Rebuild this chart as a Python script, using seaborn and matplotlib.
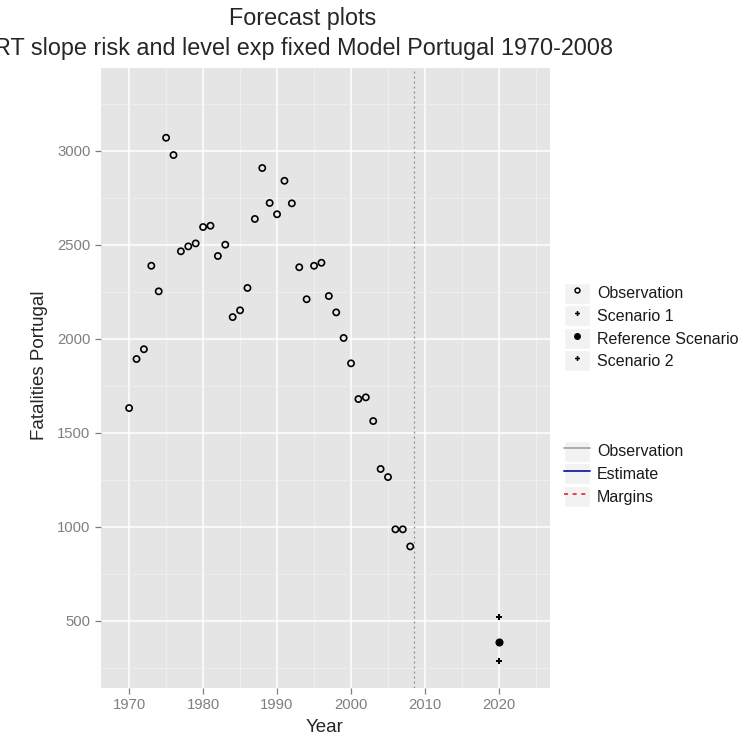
import matplotlib
matplotlib.use("Agg")
import matplotlib.pyplot as plt
import seaborn as sns
import pandas as pd
from matplotlib.lines import Line2D
from matplotlib.patches import Rectangle
from matplotlib.legend_handler import HandlerTuple
from matplotlib.ticker import MultipleLocator

# ---- data ----
years = list(range(1970, 2009))
fatalities = [1631, 1892, 1944, 2388, 2252, 3069, 2977, 2465, 2491, 2507,
              2594, 2601, 2440, 2500, 2115, 2151, 2270, 2637, 2908, 2722,
              2662, 2840, 2720, 2380, 2210, 2388, 2404, 2227, 2140, 2004,
              1869, 1679, 1688, 1562, 1307, 1264, 986, 986, 895]
forecast_year = 2020
scenario_names = ["Scenario 1", "Reference Scenario", "Scenario 2"]
scenario_values = [518, 385, 286]
last_obs_year = 2008.5
x_major = [1970, 1980, 1990, 2000, 2010, 2020]
y_major = [500, 1000, 1500, 2000, 2500, 3000]

title1 = "Forecast plots"
title2 = "RT slope risk and level exp fixed Model Portugal 1970-2008"

sns.set_theme(style="darkgrid")
plt.rcParams["font.family"] = ["Liberation Sans", "DejaVu Sans"]

W, H = 746, 738
fig = plt.figure(figsize=(W / 100, H / 100), dpi=100)
L, R, T, B = 101, 550, 68, 688
ax = fig.add_axes([L / W, 1 - B / H, (R - L) / W, (B - T) / H])
ax.set_facecolor("#E5E5E5")
for s in ax.spines.values():
    s.set_visible(False)

obs = pd.DataFrame({"Year": years, "Fatalities": fatalities})
fc = pd.DataFrame({"Year": [forecast_year] * 3, "Fatalities": scenario_values,
                   "Scenario": scenario_names})

sns.scatterplot(data=obs, x="Year", y="Fatalities", ax=ax, marker="o", s=20,
                color="black", linewidth=1.2, zorder=4)
ax.collections[-1].set_facecolor("none")
ax.collections[-1].set_edgecolor("black")

sc = fc[fc["Scenario"] != "Reference Scenario"]
ref = fc[fc["Scenario"] == "Reference Scenario"]
sns.scatterplot(data=sc, x="Year", y="Fatalities", ax=ax, marker="P", s=16,
                color="black", linewidth=0, zorder=4)
sns.scatterplot(data=ref, x="Year", y="Fatalities", ax=ax, marker="o", s=34,
                color="black", linewidth=0, zorder=4)

ax.axvline(last_obs_year, color="#8C8C8C", ls=(0, (1.5, 2.5)), lw=0.9, zorder=3)

ax.set_xlim(1966.2, 2026.9)
ax.set_ylim(142, 3440)
ax.set_xticks(x_major)
ax.set_yticks(y_major)
ax.xaxis.set_minor_locator(MultipleLocator(5))
ax.yaxis.set_minor_locator(MultipleLocator(250))
ax.grid(which="major", color="white", lw=1.1)
ax.grid(which="minor", color="#F2F2F2", lw=0.5)
ax.set_axisbelow(True)
ax.tick_params(which="major", length=4.5, width=0.9, color="#7F7F7F",
               labelcolor="#7F7F7F", labelsize=10.7, pad=3, bottom=True, left=True)
ax.tick_params(which="minor", length=0)
ax.set_xlabel("")
ax.set_ylabel("")

fig.text(325 / W, 1 - 728 / H, "Year", ha="center", va="center", fontsize=13.5)
fig.text(40 / W, 1 - 365 / H, "Fatalities Portugal", ha="center", va="center",
         rotation=90, fontsize=13.5)
fig.text(303 / W, 1 - 19 / H, title1, ha="center", va="center", fontsize=16.8)
fig.text(303 / W, 1 - 48 / H, title2, ha="center", va="center", fontsize=16.8)

# ---- legends ----
def keybox():
    return Rectangle((0, 0), 1, 1, facecolor="#F2F2F2", edgecolor="white", lw=1)

pt_handles = [
    (keybox(), Line2D([], [], ls="", marker="o", ms=3.5, mfc="none", mec="black", mew=1.1)),
    (keybox(), Line2D([], [], ls="", marker="P", ms=3.5, color="black", mew=0)),
    (keybox(), Line2D([], [], ls="", marker="o", ms=5, color="black", mew=0)),
    (keybox(), Line2D([], [], ls="", marker="P", ms=3.5, color="black", mew=0)),
]
pt_labels = ["Observation"] + scenario_names
ln_handles = [
    (keybox(), Line2D([], [], color="#A0A0A0", lw=1.2)),
    (keybox(), Line2D([], [], color="#2D2DA8", lw=1.4)),
    (keybox(), Line2D([], [], color="#F03030", lw=1.3, ls=(0, (2.2, 2.6)))),
]
ln_labels = ["Observation", "Estimate", "Margins"]

common = dict(frameon=False, fontsize=11.5, handlelength=1.63, handleheight=1.65,
              handletextpad=0.45, labelspacing=0.1, borderpad=0, borderaxespad=0,
              loc="upper left", bbox_transform=fig.transFigure,
              handler_map={tuple: HandlerTuple(ndivide=1, pad=0)})
leg1 = fig.legend(pt_handles, pt_labels, bbox_to_anchor=(564 / W, 1 - 282.5 / H), **common)
leg2 = fig.legend(ln_handles, ln_labels, bbox_to_anchor=(564 / W, 1 - 440.5 / H), **common)
for lg in (leg1, leg2):
    for t in lg.get_texts():
        t.set_color("#1A1A1A")

fig.savefig("out.png", dpi=100)
